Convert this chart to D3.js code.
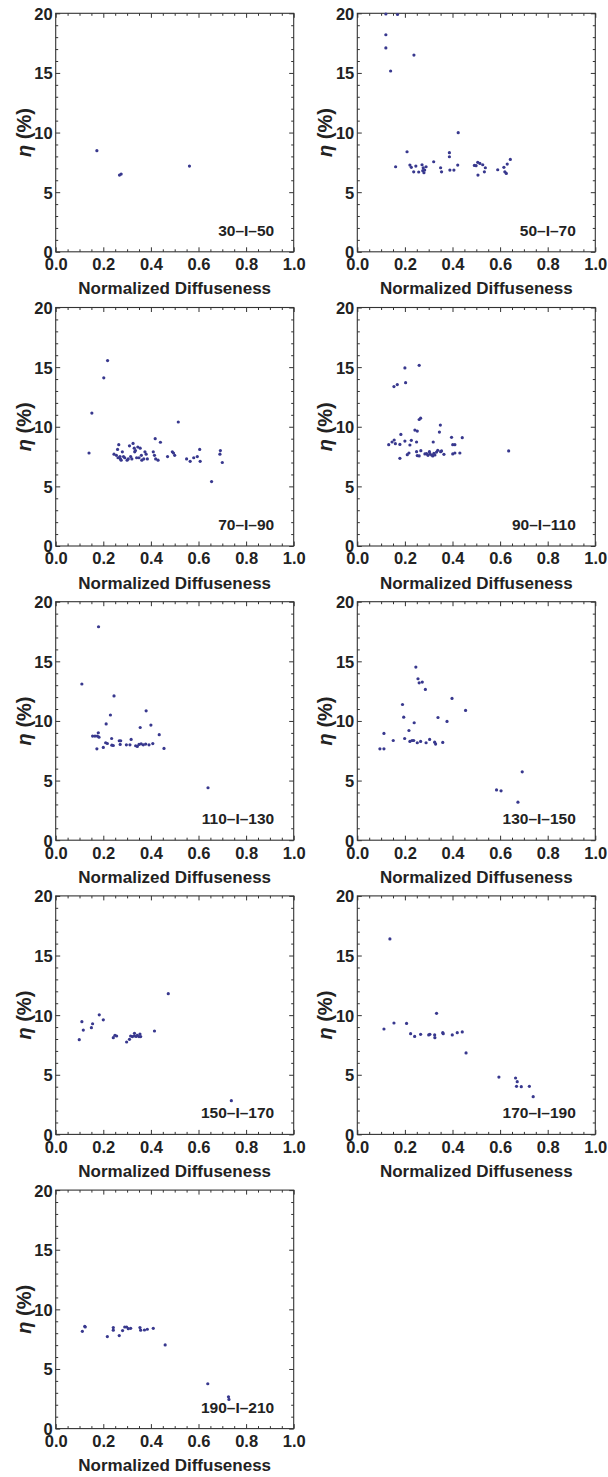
<!DOCTYPE html>
<html>
<head>
<meta charset="utf-8">
<script src="https://cdn.jsdelivr.net/npm/d3@7/dist/d3.min.js"></script>
<style>
  body { margin: 0; background: #fff; }
  svg { display: block; }
  text { font-family: "Liberation Sans", Arial, sans-serif; font-weight: bold; fill: #222; }
</style>
</head>
<body>
<div id="chart"></div>
<script>
/* DATA */
// Panel labels
const panelNames = ["30–I–50", "50–I–70", "70–I–90", "90–I–110", "110–I–130",
    "130–I–150", "150–I–170", "170–I–190", "190–I–210"];
// Axis ticks
const xTicks = [0, 0.2, 0.4, 0.6, 0.8, 1.0];
const yTicks = [0, 5, 10, 15, 20];
const xLabel = "Normalized Diffuseness";

// [normalized diffuseness, eta %]
const p30 = [[0.173, 8.48], [0.268, 6.43], [0.275, 6.52], [0.562, 7.19]];
const p50 = [[0.120, 19.94], [0.169, 19.9], [0.120, 18.2], [0.120, 17.1], [0.140, 15.16], [0.238, 16.5],
    [0.161, 7.13], [0.209, 8.39], [0.221, 7.27], [0.227, 7.08], [0.237, 6.71], [0.246, 7.19],
    [0.258, 6.69], [0.272, 7.30], [0.277, 7.05], [0.280, 6.63], [0.283, 6.85], [0.289, 7.13],
    [0.275, 6.80], [0.321, 7.55], [0.350, 7.05], [0.354, 6.71], [0.387, 8.31], [0.387, 7.97],
    [0.389, 6.85], [0.406, 6.85], [0.422, 7.27], [0.424, 9.99], [0.492, 7.24], [0.499, 7.22],
    [0.506, 7.50], [0.507, 6.43], [0.515, 7.41], [0.527, 7.30], [0.534, 6.71], [0.538, 7.05],
    [0.590, 6.88], [0.616, 7.08], [0.620, 6.71], [0.626, 6.57], [0.630, 7.36], [0.643, 7.75]];
const p70 = [[0.14, 7.8], [0.152, 11.15], [0.202, 14.1], [0.218, 15.55],
    [0.245, 7.7], [0.255, 7.6], [0.26, 8.1], [0.265, 8.5], [0.262, 7.4], [0.27, 7.5], [0.272, 7.3],
    [0.275, 7.2], [0.28, 7.9], [0.285, 7.5], [0.29, 7.4], [0.3, 7.2], [0.305, 7.3], [0.31, 8.4],
    [0.315, 7.5], [0.32, 7.3], [0.325, 8.6], [0.33, 8.2], [0.332, 7.9], [0.335, 8.0], [0.34, 7.4],
    [0.345, 8.3], [0.35, 7.4], [0.355, 8.2], [0.36, 7.6], [0.362, 7.2], [0.37, 7.3], [0.375, 7.9],
    [0.38, 7.7], [0.385, 7.3], [0.41, 7.9], [0.415, 7.6], [0.418, 9.0], [0.42, 7.3], [0.43, 7.2],
    [0.44, 8.7], [0.47, 7.5], [0.49, 7.9], [0.495, 7.8], [0.5, 7.6], [0.515, 10.4], [0.55, 7.3],
    [0.565, 7.1], [0.58, 7.4], [0.595, 7.5], [0.605, 8.1], [0.607, 7.1], [0.655, 5.4], [0.69, 7.7],
    [0.692, 8.0], [0.7, 7.0]];
const p90 = [[0.132, 8.50], [0.146, 8.72], [0.155, 8.89], [0.160, 8.58], [0.154, 13.37], [0.168, 13.54],
    [0.200, 14.93], [0.203, 13.70], [0.260, 15.15], [0.179, 8.52], [0.183, 9.36], [0.179, 7.35],
    [0.200, 8.80], [0.210, 7.66], [0.217, 7.80], [0.221, 8.47], [0.227, 8.86], [0.242, 9.72],
    [0.252, 9.64], [0.249, 8.72], [0.249, 7.91], [0.252, 7.58], [0.260, 7.55], [0.260, 10.61],
    [0.266, 10.72], [0.267, 7.99], [0.284, 7.72], [0.291, 7.74], [0.297, 7.60], [0.303, 7.91],
    [0.305, 7.74], [0.312, 7.63], [0.317, 7.55], [0.319, 8.72], [0.322, 7.77], [0.326, 7.63],
    [0.333, 7.88], [0.338, 8.02], [0.345, 9.55], [0.349, 10.14], [0.350, 7.91], [0.354, 7.97],
    [0.364, 7.69], [0.396, 9.11], [0.401, 8.50], [0.410, 8.50], [0.401, 7.72], [0.410, 7.80],
    [0.431, 7.80], [0.441, 9.08], [0.636, 7.97]];
const p110 = [[0.11, 13.1], [0.18, 17.9], [0.155, 8.73], [0.165, 8.73], [0.175, 8.73], [0.179, 9.01],
    [0.182, 8.64], [0.173, 7.66], [0.2, 7.78], [0.21, 8.17], [0.212, 9.75], [0.217, 8.11],
    [0.23, 10.5], [0.235, 8.53], [0.236, 7.97], [0.245, 12.1], [0.242, 7.94], [0.267, 8.34],
    [0.273, 8.34], [0.271, 8.03], [0.297, 8.0], [0.312, 8.0], [0.317, 8.45], [0.336, 7.92],
    [0.343, 7.86], [0.35, 8.03], [0.355, 9.45], [0.359, 8.08], [0.368, 8.0], [0.38, 10.85],
    [0.378, 8.06], [0.392, 8.0], [0.4, 9.65], [0.408, 8.1], [0.435, 8.85], [0.455, 7.7], [0.64, 4.4]];
const p130 = [[0.095, 7.66], [0.112, 7.66], [0.112, 8.95], [0.151, 8.36], [0.19, 11.38], [0.195, 10.32],
    [0.199, 8.53], [0.217, 9.2], [0.221, 8.28], [0.23, 8.36], [0.237, 8.36], [0.239, 9.85],
    [0.246, 14.52], [0.252, 8.17], [0.255, 13.54], [0.26, 13.2], [0.266, 8.28], [0.273, 13.26],
    [0.286, 12.64], [0.289, 8.17], [0.304, 8.45], [0.325, 8.22], [0.329, 8.06], [0.339, 10.29],
    [0.359, 8.2], [0.377, 9.96], [0.398, 11.89], [0.455, 10.88], [0.585, 4.22], [0.604, 4.14],
    [0.675, 3.19], [0.693, 5.73]];
const p150 = [[0.099, 7.94], [0.11, 9.45], [0.116, 8.75], [0.15, 8.95], [0.155, 9.28], [0.183, 10.03],
    [0.2, 9.61], [0.242, 8.11], [0.249, 8.31], [0.256, 8.25], [0.298, 7.75], [0.31, 7.97],
    [0.315, 8.25], [0.322, 8.2], [0.329, 8.25], [0.331, 8.48], [0.338, 8.22], [0.343, 8.31],
    [0.35, 8.2], [0.354, 8.42], [0.357, 8.2], [0.415, 8.67], [0.473, 11.8], [0.738, 2.83]];
const p170 = [[0.112, 8.84], [0.137, 16.39], [0.154, 9.34], [0.207, 9.31], [0.224, 8.45], [0.241, 8.22],
    [0.266, 8.39], [0.3, 8.34], [0.305, 8.39], [0.325, 8.34], [0.326, 8.11], [0.333, 10.15],
    [0.359, 8.53], [0.361, 8.45], [0.399, 8.34], [0.42, 8.53], [0.441, 8.59], [0.457, 6.83],
    [0.595, 4.81], [0.665, 4.73], [0.672, 4.42], [0.669, 4.03], [0.689, 4.0], [0.723, 4.03],
    [0.739, 3.16]];
const p190 = [[0.112, 8.16], [0.122, 8.58], [0.124, 8.52], [0.217, 7.72], [0.242, 8.47], [0.242, 8.25],
    [0.267, 7.80], [0.281, 8.22], [0.29, 8.52], [0.298, 8.52], [0.305, 8.38], [0.315, 8.41],
    [0.354, 8.47], [0.357, 8.25], [0.373, 8.27], [0.385, 8.33], [0.41, 8.41], [0.46, 7.02],
    [0.639, 3.76], [0.726, 2.67], [0.728, 2.45]];
const panelData = [p30, p50, p70, p90, p110, p130, p150, p170, p190];

/* LAYOUT */
const W = 608, H = 1477;
const colX = [55.7, 357.3];
const rowTop = 13.3, rowStep = 294.2;
const pw = 238, ph = 238.5;
const fs = 16.5;
const dotColor = "#38388e";
const frameColor = "#333";

const svg = d3.select("#chart")
    .append("svg")
    .attr("width", W)
    .attr("height", H);

svg.append("rect")
    .attr("width", W)
    .attr("height", H)
    .attr("fill", "#fff");

panelData.forEach((pts, i) => {
    const px = colX[i % 2];
    const py = rowTop + Math.floor(i / 2) * rowStep;
    const g = svg.append("g").attr("transform", `translate(${px},${py})`);

    const x = d3.scaleLinear().domain([0, 1]).range([0, pw]);
    const y = d3.scaleLinear().domain([0, 20]).range([ph, 0]);

    // Minor / major ticks on all four sides (inside)
    const xMinor = d3.range(0, 1.0001, 0.05);
    const yMinor = d3.range(0, 20.001, 1);
    const isMajorX = (v) => Math.abs(v * 5 - Math.round(v * 5)) < 1e-6;
    const isMajorY = (v) => v % 5 === 0;

    // bottom
    g.append("g")
        .attr("transform", `translate(0,${ph})`)
        .call(d3.axisBottom(x).tickValues(xMinor).tickSize(0).tickFormat(""))
        .call(a => a.select(".domain").remove())
        .selectAll(".tick line")
        .attr("y2", (d) => isMajorX(d) ? -4.5 : -2.5)
        .attr("stroke", frameColor);
    // top
    g.append("g")
        .call(d3.axisTop(x).tickValues(xMinor).tickSize(0).tickFormat(""))
        .call(a => a.select(".domain").remove())
        .selectAll(".tick line")
        .attr("y2", (d) => isMajorX(d) ? 4.5 : 2.5)
        .attr("stroke", frameColor);
    // left
    g.append("g")
        .call(d3.axisLeft(y).tickValues(yMinor).tickSize(0).tickFormat(""))
        .call(a => a.select(".domain").remove())
        .selectAll(".tick line")
        .attr("x2", (d) => isMajorY(d) ? 4.5 : 2.5)
        .attr("stroke", frameColor);
    // right
    g.append("g")
        .attr("transform", `translate(${pw},0)`)
        .call(d3.axisRight(y).tickValues(yMinor).tickSize(0).tickFormat(""))
        .call(a => a.select(".domain").remove())
        .selectAll(".tick line")
        .attr("x2", (d) => isMajorY(d) ? -4.5 : -2.5)
        .attr("stroke", frameColor);

    // Frame
    g.append("rect")
        .attr("width", pw)
        .attr("height", ph)
        .attr("fill", "none")
        .attr("stroke", frameColor)
        .attr("stroke-width", 1.1);

    // Tick labels
    g.append("g")
        .attr("transform", `translate(0,${ph})`)
        .call(d3.axisBottom(x).tickValues(xTicks).tickSize(0).tickPadding(0).tickFormat(d3.format(".1f")))
        .call(a => a.select(".domain").remove())
        .selectAll("text")
        .attr("y", 6.5)
        .attr("dy", "0.72em")
        .attr("font-size", fs)
        .attr("font-family", null)
        .style("fill", "#222");
    g.append("g")
        .call(d3.axisLeft(y).tickValues(yTicks).tickSize(0).tickPadding(3).tickFormat(d3.format("d")))
        .call(a => a.select(".domain").remove())
        .selectAll("text")
        .attr("dy", "0.36em")
        .attr("font-size", fs)
        .attr("font-family", null)
        .style("fill", "#222");

    // Axis titles
    g.append("text")
        .attr("x", pw / 2)
        .attr("y", ph + 42.5)
        .attr("text-anchor", "middle")
        .attr("font-size", 17)
        .text(xLabel);
    const yl = g.append("text")
        .attr("transform", `translate(-25,${ph / 2}) rotate(-90)`)
        .attr("text-anchor", "middle")
        .attr("font-size", 20);
    yl.append("tspan").attr("font-style", "italic").text("η");
    yl.append("tspan").text(" (%)");

    // Points
    g.append("g")
        .selectAll("circle")
        .data(pts)
        .join("circle")
        .attr("cx", (d) => x(d[0]))
        .attr("cy", (d) => y(d[1]))
        .attr("r", 1.6)
        .attr("fill", dotColor);

    // Panel label
    g.append("text")
        .attr("x", pw - 19.5)
        .attr("y", ph - 16)
        .attr("text-anchor", "end")
        .attr("font-size", 15.5)
        .text(panelNames[i]);
});
</script>
</body>
</html>
